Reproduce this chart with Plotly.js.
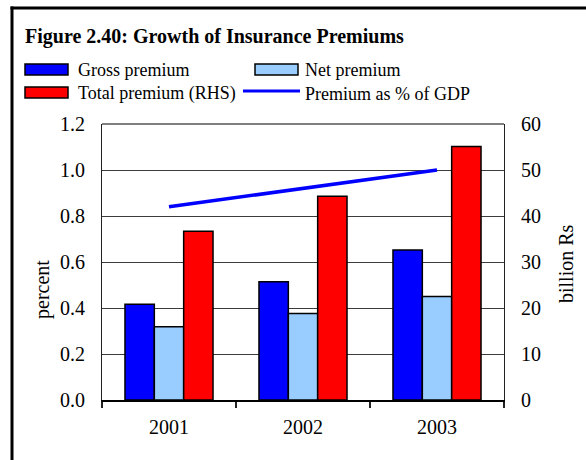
<!DOCTYPE html>
<html>
<head>
<meta charset="utf-8">
<script src="https://cdn.plot.ly/plotly-3.0.1.min.js"></script>
<style>
html,body{margin:0;padding:0;background:#fff;}
#chart{width:586px;height:460px;}
</style>
</head>
<body>
<div id="chart"></div>
<script>
// ---- data ----
const years = ['2001', '2002', '2003'];
const grossPremium = [20.8, 25.7, 32.6];      // billion Rs (RHS)
const netPremium = [15.9, 18.8, 22.5];        // billion Rs (RHS)
const totalPremium = [36.7, 44.3, 55.1];      // billion Rs (RHS)
const premiumPctGDP = [0.84, 0.92, 1.00];     // percent (LHS)
const seriesNames = ['Gross premium', 'Net premium', 'Total premium (RHS)', 'Premium as % of GDP'];
const titleText = 'Figure 2.40: Growth of Insurance Premiums';
const leftTitle = 'percent';
const rightTitle = 'billion Rs';

// ---- layout geometry (pixels) ----
const W = 586, H = 460;
const M = {l: 102, r: 82, t: 124, b: 60};
const PW = W - M.l - M.r, PH = H - M.t - M.b;
const px = x => (x - M.l) / PW;
const py = y => (H - M.b - y) / PH;

const FONT = 'Liberation Serif, Times New Roman, serif';
const colors = ['#0000FF', '#99CCFF', '#FF0000', '#0000FF'];

const traces = [
  {type: 'bar', x: years, y: grossPremium, name: seriesNames[0], yaxis: 'y2',
   marker: {color: colors[0], line: {color: '#000', width: 1.5}}},
  {type: 'bar', x: years, y: netPremium, name: seriesNames[1], yaxis: 'y2',
   marker: {color: colors[1], line: {color: '#000', width: 1.5}}},
  {type: 'bar', x: years, y: totalPremium, name: seriesNames[2], yaxis: 'y2',
   marker: {color: colors[2], line: {color: '#000', width: 1.5}}},
  {type: 'scatter', mode: 'lines', x: years, y: premiumPctGDP, name: seriesNames[3], yaxis: 'y',
   line: {color: colors[3], width: 3.5}}
];

// custom legend (shapes + annotations)
const shapes = [];
const annotations = [];
const legendItems = [
  {kind: 'box', x0: 25, x1: 68, yc: 69.5, tx: 76, ty: 70, i: 0},
  {kind: 'box', x0: 255, x1: 298, yc: 69.5, tx: 303, ty: 70, i: 1},
  {kind: 'box', x0: 25, x1: 68, yc: 92.5, tx: 76, ty: 93.5, i: 2},
  {kind: 'line', x0: 243, x1: 300, yc: 91, tx: 303, ty: 93.5, i: 3}
];
legendItems.forEach(it => {
  if (it.kind === 'box') {
    shapes.push({type: 'rect', xref: 'paper', yref: 'paper',
      x0: px(it.x0), x1: px(it.x1), y0: py(it.yc - 5.5), y1: py(it.yc + 5.5),
      fillcolor: colors[it.i], line: {color: '#000', width: 1.5}});
  } else {
    shapes.push({type: 'line', xref: 'paper', yref: 'paper',
      x0: px(it.x0), x1: px(it.x1), y0: py(it.yc), y1: py(it.yc),
      line: {color: colors[it.i], width: 3}});
  }
  annotations.push({xref: 'paper', yref: 'paper', x: px(it.tx), y: py(it.ty),
    xanchor: 'left', yanchor: 'middle', showarrow: false, text: seriesNames[it.i],
    font: {family: FONT, size: 18, color: '#000'}});
});

// plot top border
shapes.push({type: 'line', xref: 'paper', yref: 'paper', x0: 0, x1: 1, y0: 1, y1: 1,
  line: {color: '#000', width: 1}});
// outer frame (top and left edges visible)
shapes.push({type: 'line', xref: 'paper', yref: 'paper', x0: px(10.5), x1: px(600), y0: py(8), y1: py(8),
  line: {color: '#000', width: 3}});
shapes.push({type: 'line', xref: 'paper', yref: 'paper', x0: px(12), x1: px(12), y0: py(6.5), y1: py(480),
  line: {color: '#000', width: 3}});

// axis titles
annotations.push({xref: 'paper', yref: 'paper', x: px(42), y: py(290), textangle: -90,
  xanchor: 'center', yanchor: 'middle', showarrow: false, text: leftTitle,
  font: {family: FONT, size: 20, color: '#000'}});
annotations.push({xref: 'paper', yref: 'paper', x: px(566), y: py(264), textangle: -90,
  xanchor: 'center', yanchor: 'middle', showarrow: false, text: rightTitle,
  font: {family: FONT, size: 20, color: '#000'}});

const layout = {
  width: W, height: H,
  margin: M,
  paper_bgcolor: '#fff', plot_bgcolor: '#fff',
  showlegend: false,
  barmode: 'group', bargap: 0.343, bargroupgap: 0,
  title: {text: '<b>' + titleText + '</b>', xref: 'container', yref: 'container',
    x: 25 / W, xanchor: 'left', y: 1 - 36 / H, yanchor: 'middle',
    font: {family: FONT, size: 20, color: '#000'}},
  xaxis: {type: 'category', range: [-0.5, 2.5], tickson: 'boundaries',
    ticks: 'outside', ticklen: 6, tickwidth: 1.5, tickcolor: '#222',
    showline: true, linecolor: '#000', linewidth: 2, showgrid: false, zeroline: false,
    tickfont: {family: FONT, size: 20, color: '#000'}, ticklabelstandoff: 8},
  yaxis: {range: [0, 1.2], dtick: 0.2, tickformat: '.1f',
    showline: true, linecolor: '#222', linewidth: 1,
    showgrid: true, gridcolor: '#3c3c3c', gridwidth: 1, zeroline: false,
    ticks: 'outside', ticklen: 12, tickcolor: 'rgba(0,0,0,0)',
    tickfont: {family: FONT, size: 20, color: '#000'}},
  yaxis2: {range: [0, 60], dtick: 10, overlaying: 'y', side: 'right',
    showline: true, linecolor: '#222', linewidth: 1,
    showgrid: false, zeroline: false,
    ticks: 'outside', ticklen: 12, tickcolor: 'rgba(0,0,0,0)',
    tickfont: {family: FONT, size: 20, color: '#000'}},
  shapes: shapes,
  annotations: annotations
};

Plotly.newPlot('chart', traces, layout, {displayModeBar: false, staticPlot: true});
</script>
</body>
</html>
